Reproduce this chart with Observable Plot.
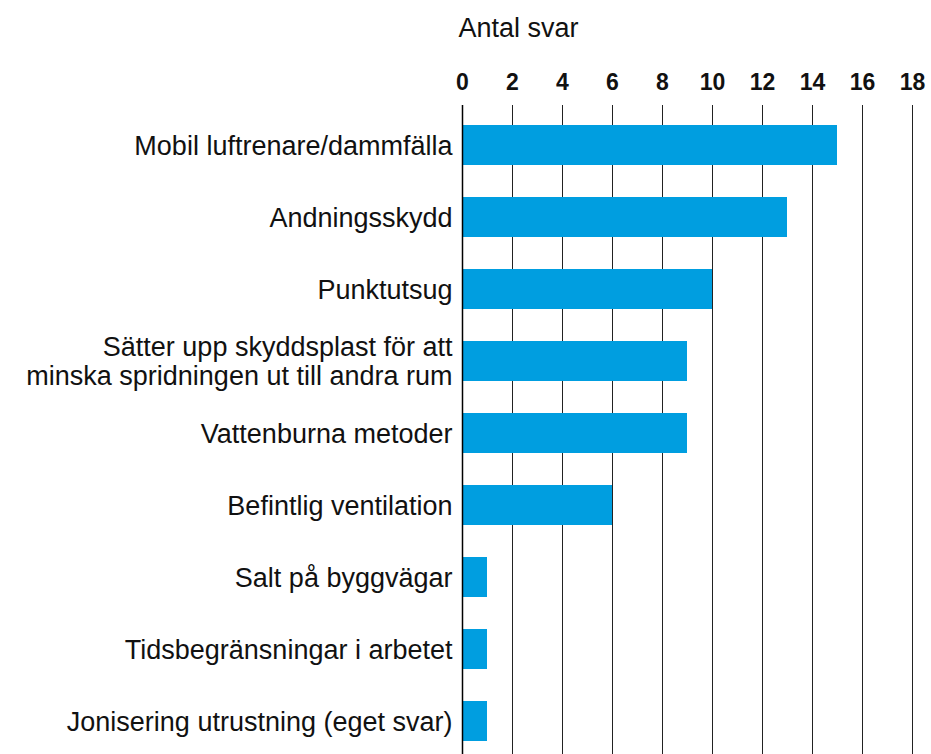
<!DOCTYPE html>
<html>
<head>
<meta charset="utf-8">
<script src="https://cdn.jsdelivr.net/npm/d3@7"></script>
<script src="https://cdn.jsdelivr.net/npm/@observablehq/plot@0.6"></script>
<style>
  html, body { margin: 0; padding: 0; background: #fff; }
  svg { display: block; }
</style>
</head>
<body>
<div id="chart"></div>
<script>
const categories = [
  "Mobil luftrenare/dammfälla",
  "Andningsskydd",
  "Punktutsug",
  "Sätter upp skyddsplast för att\nminska spridningen ut till andra rum",
  "Vattenburna metoder",
  "Befintlig ventilation",
  "Salt på byggvägar",
  "Tidsbegränsningar i arbetet",
  "Jonisering utrustning (eget svar)"
];
const values = [15, 13, 10, 9, 9, 6, 1, 1, 1];
const xTicks = [0, 2, 4, 6, 8, 10, 12, 14, 16, 18];
const xLabel = "Antal svar";

const data = categories.map((c, i) => ({category: c, value: values[i]}));
const font = "'Liberation Sans', Arial, sans-serif";

const chart = Plot.plot({
  width: 931,
  height: 761,
  marginLeft: 462,
  marginRight: 19,
  marginTop: 105,
  marginBottom: 0,
  style: {fontFamily: font, background: "#fff", color: "#111"},
  x: {domain: [0, 18], axis: null},
  y: {domain: categories, paddingInner: 0.44, paddingOuter: 0.22, axis: null},
  marks: [
    Plot.ruleX(xTicks.filter(d => d > 0), {stroke: "#222", strokeWidth: 1}),
    Plot.barX(data, {y: "category", x: "value", fill: "#009ee0"}),
    Plot.ruleX([0], {stroke: "#000", strokeWidth: 1.5}),
    Plot.axisX({
      anchor: "top", ticks: xTicks, tickSize: 0, tickPadding: 16,
      fontSize: 23, fontWeight: "bold", fill: "#111", label: null
    }),
    Plot.axisY({
      anchor: "left", tickSize: 0, tickPadding: 10,
      fontSize: 27, fill: "#111", lineHeight: 1.08, label: null
    }),
    Plot.text([xLabel], {
      frameAnchor: "top-left", lineAnchor: "middle", dy: -77.5, dx: -4, textAnchor: "start",
      fontSize: 27, fill: "#111"
    })
  ]
});
document.getElementById("chart").appendChild(chart);
</script>
</body>
</html>
